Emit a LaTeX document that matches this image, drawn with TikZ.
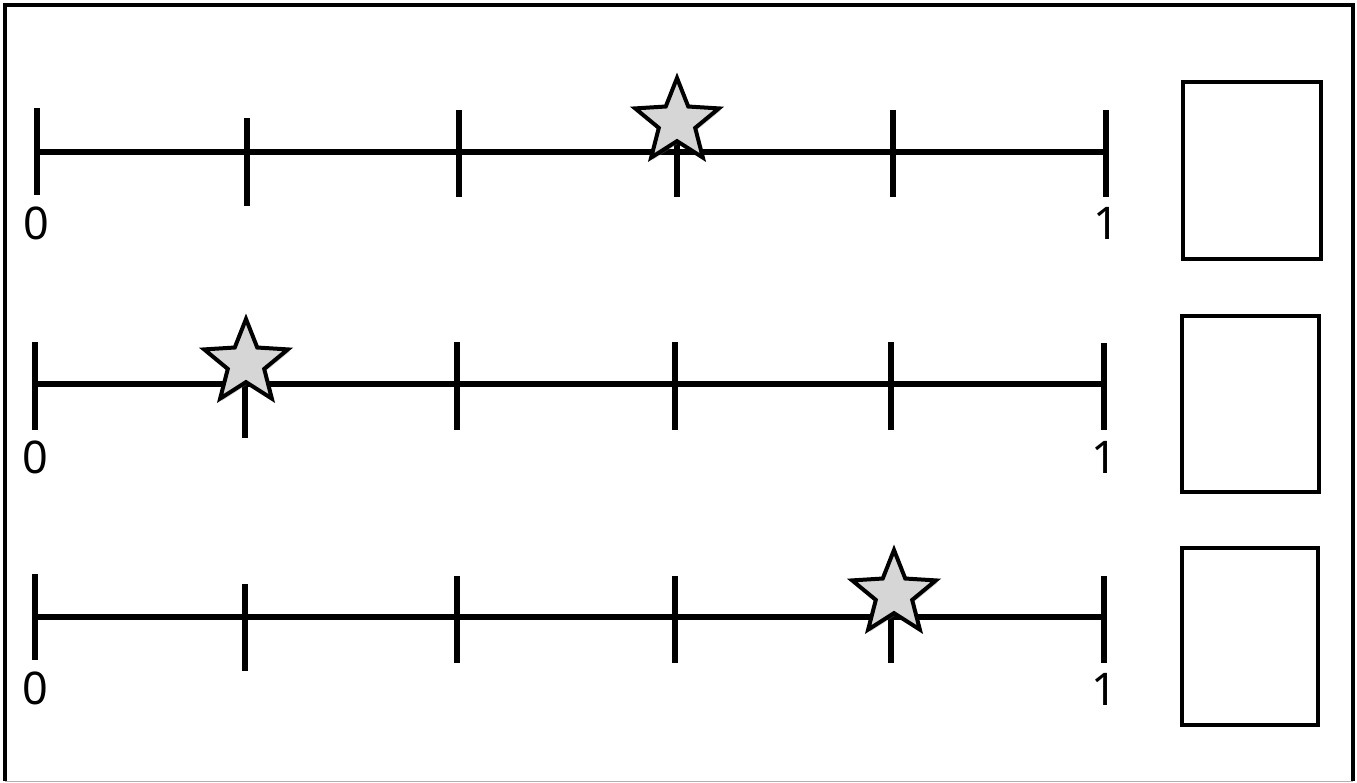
\documentclass[tikz,border=0pt]{standalone}
\usepackage{fontspec}
\setmainfont{Noto Sans}
\usetikzlibrary{shapes.geometric,shadows}
\tikzset{
  numline/.style={line width=5.5pt},
  tickmark/.style={line width=5.5pt},
  answerbox/.style={draw, line width=4pt, fill=white},
  starmark/.style={star, star points=5, star point ratio=2.3, minimum size=88pt, inner sep=0pt,
    draw=black, line width=4pt, line join=miter, fill=black!16,
    drop shadow={opacity=0.35, shadow xshift=2pt, shadow yshift=-2pt}},
  numlabel/.style={font=\fontsize{45}{45}\selectfont, inner sep=0pt}
}
\begin{document}
\begin{tikzpicture}[x=1pt,y=-1pt]
\useasboundingbox (0,0) rectangle (1357,783);
% frame
\draw[line width=4pt] (5,781) -- (5,5) -- (1353,5) -- (1353,781);
\draw[line width=1pt, black!30] (5,781) -- (1353,781);
% row 1
\draw[numline] (37,152) -- (1106,152);
\draw[tickmark] (37,108) -- (37,195);
\draw[tickmark] (247,118) -- (247,206);
\draw[tickmark] (459,110) -- (459,197);
\draw[tickmark] (677,140) -- (677,197);
\draw[tickmark] (893,110) -- (893,197);
\draw[tickmark] (1106,110) -- (1106,197);
\node[starmark] (s1) at (677,122) {};
\node[numlabel] (z1) at (36,223) {0};
\node[numlabel] (o1) at (1106,223) {1};
\node[answerbox, minimum width=138pt, minimum height=177pt] (b1) at (1252,170.5) {};
% row 2
\draw[numline] (35,384) -- (1104,384);
\draw[tickmark] (35,342) -- (35,430);
\draw[tickmark] (245,380) -- (245,438);
\draw[tickmark] (457,342) -- (457,430);
\draw[tickmark] (675,342) -- (675,430);
\draw[tickmark] (891,342) -- (891,430);
\draw[tickmark] (1104,343) -- (1104,430);
\node[starmark] (s2) at (246,363) {};
\node[numlabel] (z2) at (35,457) {0};
\node[numlabel] (o2) at (1104,457) {1};
\node[answerbox, minimum width=137pt, minimum height=176pt] (b2) at (1250.5,404) {};
% row 3
\draw[numline] (35,617) -- (1104,617);
\draw[tickmark] (35,574) -- (35,660);
\draw[tickmark] (245,584) -- (245,671);
\draw[tickmark] (457,576) -- (457,663);
\draw[tickmark] (675,576) -- (675,663);
\draw[tickmark] (891,610) -- (891,663);
\draw[tickmark] (1104,576) -- (1104,663);
\node[starmark] (s3) at (894,594) {};
\node[numlabel] (z3) at (35,688) {0};
\node[numlabel] (o3) at (1104,689) {1};
\node[answerbox, minimum width=136pt, minimum height=177pt] (b3) at (1250,636.5) {};
\end{tikzpicture}
\end{document}
